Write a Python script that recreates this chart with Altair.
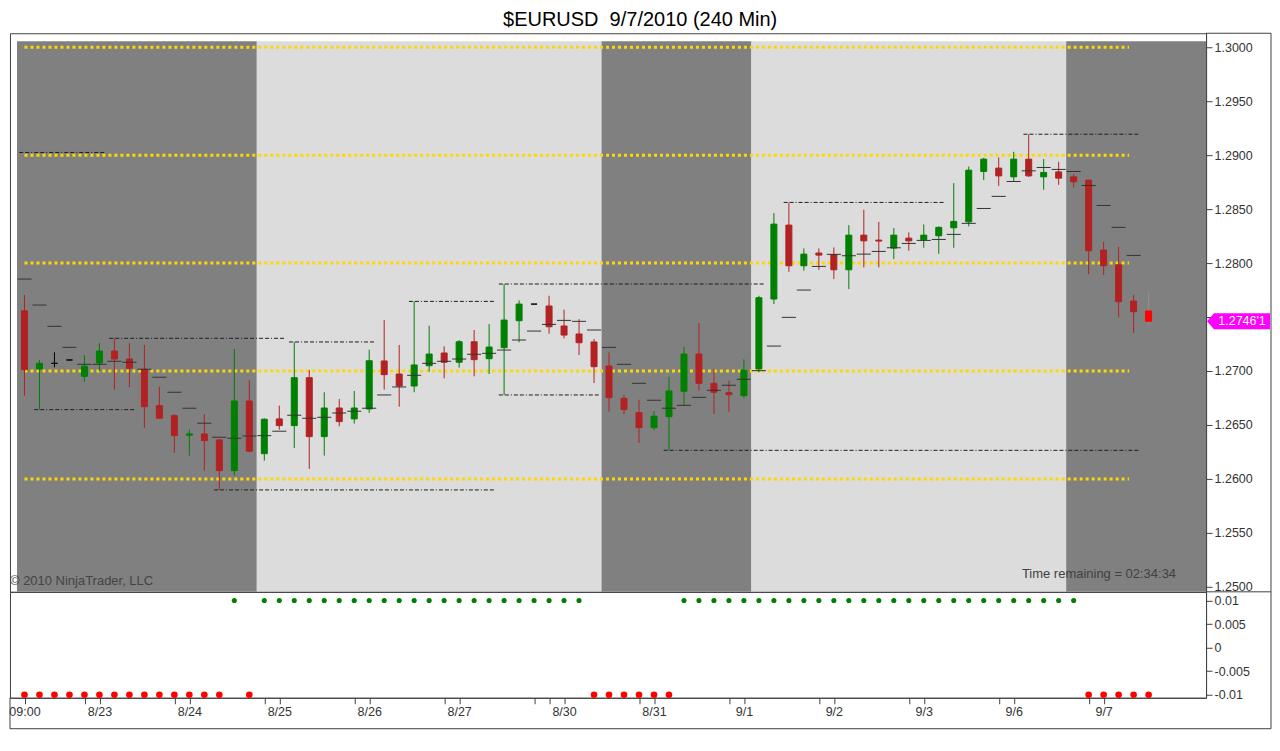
import altair as alt
import pandas as pd

# ---------------- data (240-min bars, index 0 = 8/22 09:00 ... 75 = 9/7) ----------------
opens = [1.27558, 1.27019, 1.27071, 1.27102, 1.26951, 1.27074, 1.27185, 1.27111, 1.27016, 1.26679,
         1.26586, 1.26405, 1.26417, 1.26361, 1.26077, 1.26722, 1.26234, 1.26556, 1.26494, 1.26938,
         1.26392, 1.26657, 1.26556, 1.26648, 1.27093, 1.26972, 1.26861, 1.27049, 1.27167, 1.27081,
         1.27271, 1.27114, 1.27216, 1.27466, 1.27620, 1.27602, 1.27417, 1.27343, 1.27269, 1.27046,
         1.26747, 1.26614, 1.26475, 1.26577, 1.26812, 1.27157, 1.26886, 1.26799, 1.26771, 1.27019,
         1.27667, 1.28352, 1.27975, 1.28093, 1.28077, 1.27938, 1.28259, 1.28213, 1.28139, 1.28231,
         1.28216, 1.28253, 1.28327, 1.28382, 1.28849, 1.28880, 1.28799, 1.28963, 1.28799, 1.28845,
         1.28799, 1.28769, 1.28120, 1.27984, 1.27648, 1.27556]
highs = [1.27704, 1.27102, 1.27173, 1.27102, 1.27148, 1.27259, 1.27303, 1.27259, 1.27241, 1.26855,
         1.26599, 1.26456, 1.26599, 1.26370, 1.27204, 1.26917, 1.26562, 1.26679, 1.27269, 1.27009,
         1.26803, 1.26741, 1.26815, 1.27197, 1.27472, 1.27241, 1.27645, 1.27419, 1.27229, 1.27287,
         1.27380, 1.27435, 1.27806, 1.27655, 1.27620, 1.27697, 1.27568, 1.27481, 1.27296, 1.27173,
         1.26778, 1.26734, 1.26630, 1.26947, 1.27225, 1.27444, 1.27019, 1.26910, 1.27108, 1.27697,
         1.28463, 1.28562, 1.28136, 1.28136, 1.28145, 1.28352, 1.28494, 1.28382, 1.28324, 1.28284,
         1.28358, 1.28340, 1.28741, 1.28895, 1.28975, 1.28979, 1.29031, 1.29194, 1.28963, 1.28938,
         1.28824, 1.28769, 1.28197, 1.28151, 1.27707, 1.27738]
lows = [1.26771, 1.26642, 1.27034, 1.27102, 1.26901, 1.27000, 1.26827, 1.26849, 1.26472, 1.26556,
        1.26241, 1.26216, 1.26077, 1.25898, 1.26031, 1.26247, 1.26169, 1.26456, 1.26287, 1.26093,
        1.26216, 1.26488, 1.26512, 1.26611, 1.26827, 1.26669, 1.26803, 1.26994, 1.26932, 1.27031,
        1.26951, 1.26972, 1.26778, 1.27266, 1.27620, 1.27345, 1.27303, 1.27148, 1.26889, 1.26623,
        1.26599, 1.26333, 1.26451, 1.26265, 1.26679, 1.26821, 1.26602, 1.26623, 1.26747, 1.26988,
        1.27620, 1.27919, 1.27929, 1.27938, 1.27852, 1.27759, 1.27960, 1.27960, 1.28037, 1.28114,
        1.28142, 1.28086, 1.28142, 1.28340, 1.28769, 1.28716, 1.28756, 1.28799, 1.28679, 1.28725,
        1.28701, 1.27898, 1.27889, 1.27497, 1.27352, 1.27426]
closes = [1.27012, 1.27071, 1.27071, 1.27102, 1.27044, 1.27185, 1.27111, 1.27025, 1.26669, 1.26562,
          1.26401, 1.26417, 1.26355, 1.26077, 1.26722, 1.26257, 1.26553, 1.26494, 1.26938, 1.26392,
          1.26657, 1.26531, 1.26657, 1.27095, 1.26966, 1.26861, 1.27056, 1.27157, 1.27081, 1.27271,
          1.27105, 1.27222, 1.27472, 1.27620, 1.27620, 1.27410, 1.27333, 1.27262, 1.27040, 1.26753,
          1.26642, 1.26475, 1.26581, 1.26815, 1.27157, 1.26886, 1.26803, 1.26781, 1.27009, 1.27679,
          1.28361, 1.27975, 1.28083, 1.28074, 1.27938, 1.28259, 1.28206, 1.28204, 1.28259, 1.28206,
          1.28259, 1.28331, 1.28386, 1.28861, 1.28963, 1.28808, 1.28963, 1.28808, 1.28840, 1.28787,
          1.28753, 1.28114, 1.27975, 1.27642, 1.27549, 1.27461]
# moving-average hash marks (none on the live bar)
sma = [1.27852, 1.27611, 1.27414, 1.27219, 1.27062, 1.27062, 1.27090, 1.27081, 1.27016, 1.26942,
       1.26803, 1.26655, 1.26516, 1.26386, 1.26377, 1.26398, 1.26401, 1.26442, 1.26590, 1.26562,
       1.26571, 1.26611, 1.26627, 1.26655, 1.26778, 1.26852, 1.26960, 1.27071, 1.27090, 1.27111,
       1.27155, 1.27164, 1.27194, 1.27287, 1.27370, 1.27432, 1.27469, 1.27460, 1.27380, 1.27219,
       1.27062, 1.26886, 1.26729, 1.26655, 1.26682, 1.26756, 1.26821, 1.26868, 1.26923, 1.27003,
       1.27231, 1.27497, 1.27750, 1.27969, 1.28081, 1.28068, 1.28083, 1.28108, 1.28142, 1.28182,
       1.28210, 1.28219, 1.28266, 1.28368, 1.28506, 1.28618, 1.28756, 1.28855, 1.28886, 1.28868,
       1.28849, 1.28719, 1.28534, 1.28331, 1.28071, None]
# lower-panel trend signal
signal = [-0.01, -0.01, -0.01, -0.01, -0.01, -0.01, -0.01, -0.01, -0.01, -0.01,
          -0.01, -0.01, -0.01, -0.01, 0.01, -0.01, 0.01, 0.01, 0.01, 0.01,
          0.01, 0.01, 0.01, 0.01, 0.01, 0.01, 0.01, 0.01, 0.01, 0.01,
          0.01, 0.01, 0.01, 0.01, 0.01, 0.01, 0.01, 0.01, -0.01, -0.01,
          -0.01, -0.01, -0.01, -0.01, 0.01, 0.01, 0.01, 0.01, 0.01, 0.01,
          0.01, 0.01, 0.01, 0.01, 0.01, 0.01, 0.01, 0.01, 0.01, 0.01,
          0.01, 0.01, 0.01, 0.01, 0.01, 0.01, 0.01, 0.01, 0.01, 0.01,
          0.01, -0.01, -0.01, -0.01, -0.01, -0.01]

# round-number price levels (yellow)
pivot_levels = [1.30, 1.29, 1.28, 1.27, 1.26]
pivot_from = 0
pivot_to = 73.7
# swing high / low lines
swing_levels = [1.29025, 1.27303, 1.27269, 1.26642, 1.25898, 1.27645, 1.27806, 1.26778, 1.28562, 1.26265, 1.29194]
swing_from = [0, 6, 18, 1, 13, 26, 32, 32, 51, 43, 67]
swing_to = [5, 17, 23, 7, 31, 31, 49, 38, 61, 74, 74]
# session shading
session_from = [-0.5, 15.5, 38.5, 48.5, 69.5]
session_to = [15.5, 38.5, 48.5, 69.5, 79.5]
session_kind = ["off", "on", "off", "on", "off"]
session_top = 1.30056

# axes
price_ticks = [1.2500, 1.2550, 1.2600, 1.2650, 1.2700, 1.2750, 1.2800, 1.2850, 1.2900, 1.2950, 1.3000]
hidden_price_label = 1.2750   # covered by the last-price marker
signal_ticks = [-0.01, -0.005, 0, 0.005, 0.01]
tick_bars = [0, 4, 5, 10, 11, 16, 17, 22, 23, 28, 29, 34, 35, 36, 41, 42, 47, 48, 53, 54, 59, 60, 65, 66, 71, 72]
tick_labels = ["09:00", "", "8/23", "", "8/24", "", "8/25", "", "8/26", "", "8/27", "", "", "8/30",
               "", "8/31", "", "9/1", "", "9/2", "", "9/3", "", "9/6", "", "9/7"]
price_label = "1.2746'1"
title_text = "$EURUSD\u00a0 9/7/2010 (240 Min)"

# ---------------- styling ----------------
FONT = "Liberation Sans"
FRAME = "#404040"
UP, DOWN, FLAT, LIVE, LIVE_WICK = "#008000", "#B22222", "#000000", "#FF0000", "#A08888"
W, H_MAIN, H_LOW, R_EDGE, B_EDGE = 1197, 559, 106, 1262, 137
X_DOMAIN = [-0.96667, 78.83333]
P_DOMAIN = [1.249537, 1.301296]
S_DOMAIN = [-0.010628, 0.011844]

live = len(opens) - 1
candles = pd.DataFrame({"bar": list(range(len(opens))), "open": opens, "high": highs,
                        "low": lows, "close": closes, "sma": sma})
xs = alt.Scale(domain=X_DOMAIN, nice=False, zero=False)
ps = alt.Scale(domain=P_DOMAIN, nice=False, zero=False)
ss = alt.Scale(domain=S_DOMAIN, nice=False, zero=False)
pax = alt.Axis(orient="right", values=price_ticks, title=None, grid=False, tickSize=6, labelPadding=2,
               labelExpr=f"abs(datum.value - {hidden_price_label}) < 1e-9 ? '' : format(datum.value, '.4f')")
sax = alt.Axis(orient="right", values=signal_ticks, labelExpr="'' + datum.value", title=None,
               grid=False, tickSize=6, labelPadding=2)
label_expr = "".join(f"datum.value == {b} ? '{t}' : " for b, t in zip(tick_bars, tick_labels) if t) + "''"
xax = alt.Axis(orient="bottom", values=tick_bars, labelExpr=label_expr, title=None, grid=False,
               tickSize=6, labelPadding=2, labelOverlap=False, labelFlush=False)

one = pd.DataFrame({"k": [0]})

shade = alt.Chart(pd.DataFrame({"x0": session_from, "x1": session_to, "kind": session_kind,
                                "top": session_top, "bottom": P_DOMAIN[0]})).mark_rect(clip=True).encode(
    x=alt.X("x0:Q", scale=xs, axis=None), x2="x1:Q",
    y=alt.Y("top:Q", scale=ps, axis=pax), y2="bottom:Q",
    color=alt.Color("kind:N", scale=alt.Scale(domain=["off", "on"], range=["#808080", "#DCDCDC"]), legend=None),
)

col_expr = (f"datum.close > datum.open ? '{UP}' : datum.close < datum.open ? '{DOWN}' : '{FLAT}'")
base = alt.Chart(candles).transform_calculate(
    body_col=f"datum.bar == {live} ? '{LIVE}' : " + col_expr,
    wick_col=f"datum.bar == {live} ? '{LIVE_WICK}' : " + col_expr,
    bl="datum.bar - 0.2", br="datum.bar + 0.2",
    hl="datum.bar - 0.47", hr="datum.bar + 0.47",
)
wicks = base.mark_rule(strokeWidth=1).encode(
    x=alt.X("bar:Q", scale=xs, axis=None),
    y=alt.Y("low:Q", scale=ps, axis=pax), y2="high:Q",
    color=alt.Color("wick_col:N", scale=None),
)
bodies = base.mark_rect(strokeWidth=1).encode(
    x=alt.X("bl:Q", scale=xs, axis=None), x2="br:Q",
    y=alt.Y("open:Q", scale=ps, axis=pax), y2="close:Q",
    fill=alt.Fill("body_col:N", scale=None),
    stroke=alt.Stroke("body_col:N", scale=None),
)
hashes = base.transform_filter("isValid(datum.sma)").mark_rule(color="#333333", strokeWidth=1).encode(
    x=alt.X("hl:Q", scale=xs, axis=None), x2="hr:Q",
    y=alt.Y("sma:Q", scale=ps, axis=pax),
)
yellow = alt.Chart(pd.DataFrame({"level": pivot_levels, "x0": pivot_from, "x1": pivot_to})).mark_rule(
    color="#FFD700", strokeWidth=3, strokeDash=[3, 3]).encode(
    x=alt.X("x0:Q", scale=xs, axis=None), x2="x1:Q",
    y=alt.Y("level:Q", scale=ps, axis=pax),
)
swings = alt.Chart(pd.DataFrame({"level": swing_levels, "b0": swing_from, "b1": swing_to})).transform_calculate(
    x0="datum.b0 - 0.35", x1="datum.b1 + 0.4").mark_rule(
    color="#1E1E1E", strokeWidth=1, strokeDash=[4, 2, 4, 2, 1, 2]).encode(
    x=alt.X("x0:Q", scale=xs, axis=None), x2="x1:Q",
    y=alt.Y("level:Q", scale=ps, axis=pax),
)
copyright_txt = alt.Chart(pd.DataFrame({"t": ["\u00a9 2010 NinjaTrader, LLC"]})).mark_text(
    align="left", baseline="middle", font=FONT, fontSize=13, color="#444444").encode(
    x=alt.value(0), y=alt.value(548), text="t:N")
timer_txt = alt.Chart(pd.DataFrame({"t": ["Time remaining = 02:34:34"]})).mark_text(
    align="right", baseline="middle", font=FONT, fontSize=13, color="#404040").encode(
    x=alt.value(1167), y=alt.value(541), text="t:N")
marker_df = pd.DataFrame({"price": [closes[-1]], "label": [price_label]})
marker = alt.Chart(marker_df).mark_point(
    shape="M -1 0 L -0.78 -0.254 L 1 -0.254 L 1 0.254 L -0.78 0.254 Z",
    size=3969, filled=True, color="#FF00FF", opacity=1, strokeWidth=0).encode(
    x=alt.value(1229.5), y=alt.Y("price:Q", scale=ps, axis=pax))
marker_txt = alt.Chart(marker_df).mark_text(
    align="center", baseline="middle", font=FONT, fontSize=12.5, color="white").encode(
    x=alt.value(1233), y=alt.Y("price:Q", scale=ps, axis=pax), text="label:N")

def frame_rule(**enc):
    return alt.Chart(one).mark_rule(color=FRAME, strokeWidth=1).encode(**enc)

main_frames = [
    frame_rule(x=alt.value(W), x2=alt.value(R_EDGE), y=alt.value(0)),
    frame_rule(x=alt.value(W), x2=alt.value(R_EDGE), y=alt.value(H_MAIN)),
    frame_rule(x=alt.value(R_EDGE), y=alt.value(0), y2=alt.value(H_MAIN)),
]
main = alt.layer(shade, yellow, swings, wicks, bodies, hashes, copyright_txt, timer_txt,
                 marker, marker_txt, *main_frames).properties(width=W, height=H_MAIN)

sig_df = pd.DataFrame({"bar": list(range(len(signal))), "signal": signal})
dots = alt.Chart(sig_df).transform_calculate(
    dot_col=f"datum.signal > 0 ? '{UP}' : '#FF0000'",
    dot_size="datum.signal > 0 ? 26 : 44",
).mark_circle(opacity=1).encode(
    x=alt.X("bar:Q", scale=xs, axis=xax),
    y=alt.Y("signal:Q", scale=ss, axis=sax),
    color=alt.Color("dot_col:N", scale=None),
    size=alt.Size("dot_size:Q", scale=None),
)
low_frames = [
    frame_rule(x=alt.value(R_EDGE), y=alt.value(0), y2=alt.value(B_EDGE)),
    frame_rule(x=alt.value(0), x2=alt.value(R_EDGE), y=alt.value(B_EDGE)),
    frame_rule(x=alt.value(0), y=alt.value(H_LOW), y2=alt.value(B_EDGE)),
]
lower = alt.layer(dots, *low_frames).properties(width=W, height=H_LOW)

chart = alt.vconcat(main, lower, spacing=0, bounds="flush").properties(
    title=alt.TitleParams(text=title_text, font=FONT, fontSize=20, fontWeight="normal",
                          color="#000000", anchor="middle", offset=2),
    padding={"top": 2, "left": 0, "right": 0, "bottom": 0},
).configure_view(stroke=FRAME, strokeWidth=1).configure_axis(
    labelFont=FONT, labelFontSize=12.5, labelColor="#333333", domainColor=FRAME,
    tickColor=FRAME, grid=False,
)

chart.save("out.html", embed_options={"renderer": "svg", "actions": False})
